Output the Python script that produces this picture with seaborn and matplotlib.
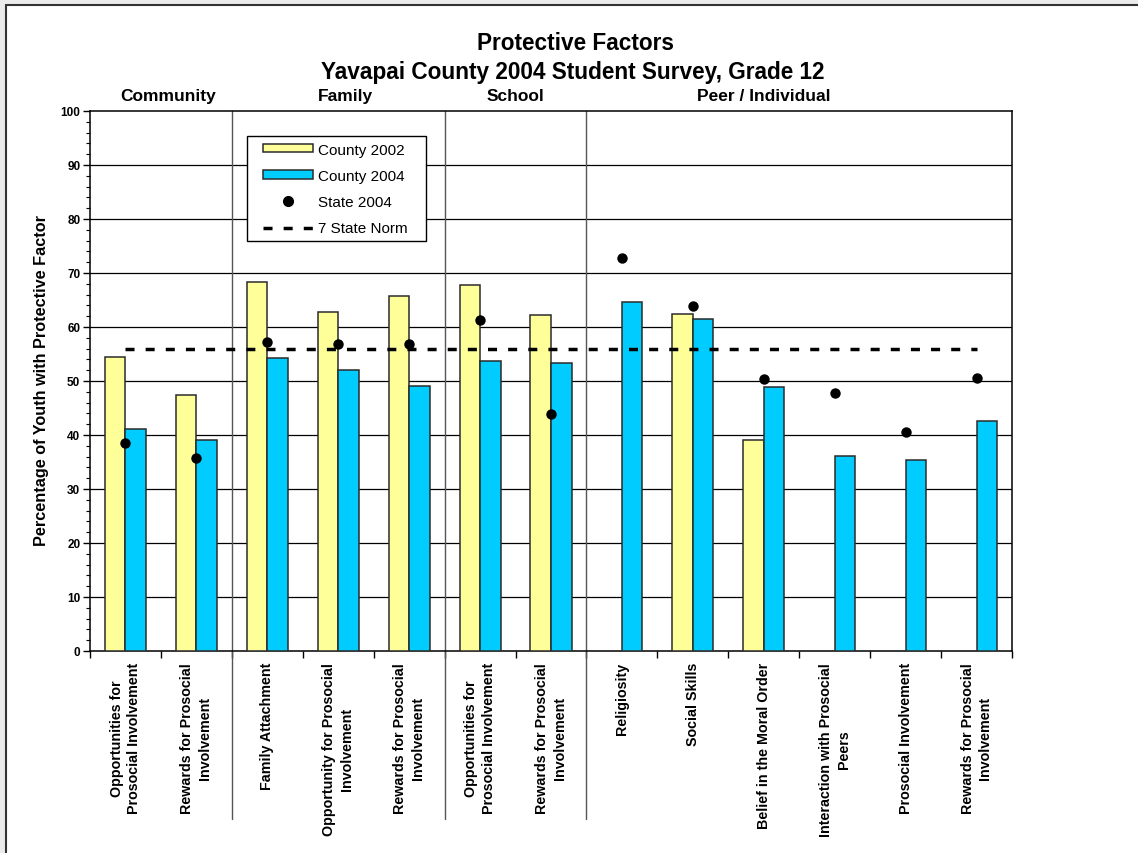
import numpy as np
import pandas as pd
import matplotlib
matplotlib.use("Agg")
import matplotlib.pyplot as plt
import seaborn as sns
from matplotlib.patches import Patch, Rectangle
from matplotlib.lines import Line2D
import matplotlib.transforms as mtransforms

# ---------------- data ----------------
title_lines = ["Protective Factors", "Yavapai County 2004 Student Survey, Grade 12"]
domains = ["Community", "Family", "School", "Peer / Individual"]
domain_sizes = [2, 3, 2, 6]
factor_labels = [
    "Opportunities for\nProsocial Involvement",
    "Rewards for Prosocial\nInvolvement",
    "Family Attachment",
    "Opportunity for Prosocial\nInvolvement",
    "Rewards for Prosocial\nInvolvement",
    "Opportunities for\nProsocial Involvement",
    "Rewards for Prosocial\nInvolvement",
    "Religiosity",
    "Social Skills",
    "Belief in the Moral Order",
    "Interaction with Prosocial\nPeers",
    "Prosocial Involvement",
    "Rewards for Prosocial\nInvolvement",
]
county_2002 = [54.5, 47.5, 68.4, 62.8, 65.7, 67.7, 62.3, np.nan, 62.5, 39.1, np.nan, np.nan, np.nan]
county_2004 = [41.2, 39.1, 54.2, 52.1, 49.1, 53.7, 53.4, 64.7, 61.5, 48.8, 36.1, 35.4, 42.6]
state_2004 = [38.6, 35.7, 57.2, 56.9, 56.9, 61.3, 43.9, 72.7, 63.9, 50.3, 47.8, 40.5, 50.6]
state_norm = 56.0
series_names = ["County 2002", "County 2004", "State 2004", "7 State Norm"]
y_ticks = [0, 10, 20, 30, 40, 50, 60, 70, 80, 90, 100]
y_label = "Percentage of Youth with Protective Factor"

# ---------------- styling ----------------
YELLOW = "#FFFF99"
CYAN = "#00CCFF"
EDGE = "#2b2b2b"

sns.set_style("white")
plt.rcParams["font.family"] = ["Liberation Sans", "DejaVu Sans"]
plt.rcParams["text.color"] = "black"
plt.rcParams["xtick.color"] = "black"
plt.rcParams["ytick.color"] = "black"
plt.rcParams["axes.labelcolor"] = "black"

W, H = 1138, 854
fig = plt.figure(figsize=(W / 100, H / 100), dpi=100)
fig.patch.set_facecolor("white")
ax_l, ax_r, ax_t, ax_b = 90, 1012, 112, 652
ax = fig.add_axes([ax_l / W, 1 - ax_b / H, (ax_r - ax_l) / W, (ax_b - ax_t) / H])

n = len(factor_labels)
domain_of = []
for d, s in zip(domains, domain_sizes):
    domain_of += [d] * s
keys = [f"{d} | {lab}" for d, lab in zip(domain_of, factor_labels)]

df = pd.DataFrame({
    "key": keys * 2,
    "series": [series_names[0]] * n + [series_names[1]] * n,
    "value": county_2002 + county_2004,
}).dropna()

sns.barplot(data=df, x="key", y="value", hue="series", order=keys,
            hue_order=series_names[:2], palette=[YELLOW, CYAN], saturation=1,
            width=0.58, dodge=True, edgecolor=EDGE, linewidth=1.1,
            errorbar=None, legend=False, ax=ax, zorder=3)

# 7 state norm dashed line (from first to last category centre)
ax.hlines(state_norm, 0, n - 1, colors="black", linewidth=2.5,
          linestyles=(0, (2.6, 3.2)), zorder=4)

# state dots
sns.stripplot(x=keys, y=state_2004, order=keys, jitter=False, color="black",
              size=7.5, linewidth=0, ax=ax, zorder=5)

ax.set_xlim(-0.5, n - 0.5)
ax.set_ylim(0, 100)
ax.set_xlabel("")
ax.set_ylabel("")

# gridlines
ax.set_axisbelow(True)
for v in y_ticks[1:-1]:
    ax.axhline(v, color="black", linewidth=0.9, zorder=1)

# y ticks
ax.set_yticks(y_ticks)
ax.set_yticks(np.arange(0, 101, 2), minor=True)
ax.set_yticklabels([str(t) for t in y_ticks], fontsize=8.5, fontweight="bold")
ax.tick_params(axis="y", which="major", direction="out", length=5, width=1, pad=2, left=True)
ax.tick_params(axis="y", which="minor", direction="out", length=3, width=0.8, left=True)

# x ticks: major at boundaries (no labels), minor at centres (labels)
ax.set_xticks(np.arange(-0.5, n, 1.0))
ax.set_xticklabels([""] * (n + 1))
ax.set_xticks(np.arange(n), minor=True)
ax.set_xticklabels(factor_labels, minor=True, fontsize=10.3, fontweight="bold",
                   rotation=90, va="top", ha="center", multialignment="center",
                   linespacing=1.35)
ax.tick_params(axis="x", which="major", direction="out", length=5, width=1, bottom=True)
ax.tick_params(axis="x", which="minor", length=0, pad=8)

for sp in ax.spines.values():
    sp.set_visible(True)
    sp.set_color("black")
    sp.set_linewidth(1.1)

# domain separators extending below the axis
trans = mtransforms.blended_transform_factory(ax.transData, ax.transAxes)
bounds = np.cumsum(domain_sizes)[:-1] - 0.5
for b in bounds:
    ax.plot([b, b], [1.0, -(820 - ax_b) / (ax_b - ax_t)], color="#555555",
            linewidth=1.0, transform=trans, clip_on=False, zorder=2)

# domain labels
domain_x = [0.6, 3.1, 5.5, 9.0]
for d, xpos in zip(domains, domain_x):
    ax.text(xpos, 1 + (ax_t - 97) / (ax_b - ax_t), d, transform=trans,
            ha="center", va="center", fontsize=12.5, fontweight="bold")

# titles
fig.text(575 / W, 1 - 43 / H, title_lines[0], ha="center", va="center",
         fontsize=16.3, fontweight="bold")
fig.text(573 / W, 1 - 72 / H, title_lines[1], ha="center", va="center",
         fontsize=16.3, fontweight="bold")

# y label
fig.text(42 / W, 1 - 380 / H, y_label, rotation=90, ha="center", va="center",
         fontsize=11.7, fontweight="bold")

# legend: frame drawn separately, contents placed inside
def ax_frac_x(px):
    return (px - ax_l) / (ax_r - ax_l)

def ax_frac_y(py):
    return (ax_b - py) / (ax_b - ax_t)

box_l, box_r, box_t, box_btm = 247, 426, 137, 242
ax.add_patch(Rectangle((ax_frac_x(box_l), ax_frac_y(box_btm)),
                       ax_frac_x(box_r) - ax_frac_x(box_l),
                       ax_frac_y(box_t) - ax_frac_y(box_btm),
                       transform=ax.transAxes, facecolor="white",
                       edgecolor="black", linewidth=1.0, zorder=6))
handles = [
    Patch(facecolor=YELLOW, edgecolor=EDGE, linewidth=1.1),
    Patch(facecolor=CYAN, edgecolor=EDGE, linewidth=1.1),
    Line2D([], [], color="black", marker="o", linestyle="none", markersize=7),
    Line2D([], [], color="black", linewidth=2.5, linestyle=(0, (2.6, 3.2))),
]
leg = ax.legend(handles, series_names, loc="center left",
                bbox_to_anchor=(ax_frac_x(263), ax_frac_y((box_t + box_btm) / 2 + 0.5)),
                borderaxespad=0, borderpad=0, fontsize=11, frameon=False,
                handlelength=3.25, handleheight=0.45,
                handletextpad=0.32, labelspacing=0.8)
leg.set_zorder(7)

# figure border (grey band on top and left)
fig.add_artist(Rectangle((0, 1 - 5 / H), 1, 5 / H, transform=fig.transFigure,
                         facecolor="#ebebeb", edgecolor="none"))
fig.add_artist(Rectangle((0, 0), 5 / W, 1, transform=fig.transFigure,
                         facecolor="#ebebeb", edgecolor="none"))
fig.add_artist(Line2D([5.5 / W, 1], [1 - 5.5 / H, 1 - 5.5 / H], transform=fig.transFigure,
                      color="#333333", linewidth=1.5))
fig.add_artist(Line2D([5.5 / W, 5.5 / W], [0, 1 - 5.5 / H], transform=fig.transFigure,
                      color="#333333", linewidth=1.5))

fig.savefig("out.png", dpi=100)
